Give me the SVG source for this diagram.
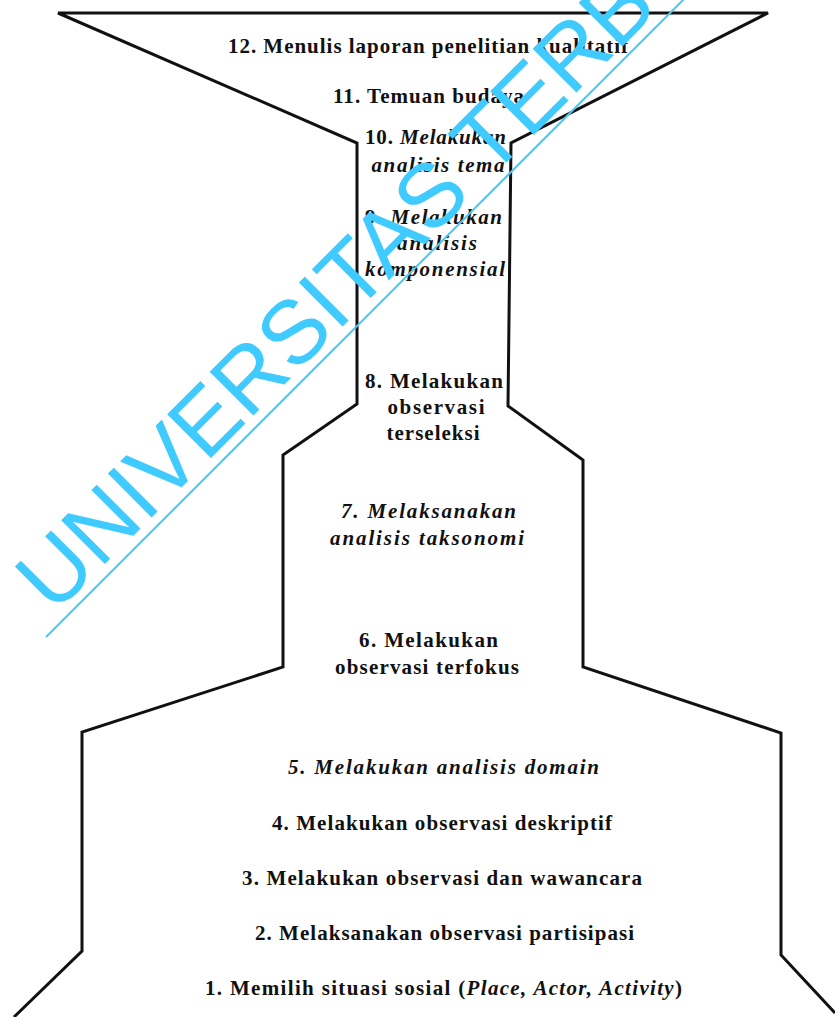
<svg xmlns="http://www.w3.org/2000/svg" width="835" height="1017" viewBox="0 0 835 1017">
<style>
.t{font-size:21px;font-weight:bold;fill:#111;text-anchor:middle}
.i{font-style:italic}
.o{fill:none;stroke:#111;stroke-width:3;stroke-linejoin:miter}
.wm{font-size:90px;fill:#3fcbff}
</style>
<rect width="835" height="1017" fill="#fff"/>
<g id="outline">
<polyline class="o" points="14,1017 82,951 82,732 283,667 283,455 357,404 357,143 58,13 768,13 511,143 508,406 583,460 583,667 781,733 781,955 835,1013"/>
</g>
<g id="labels" font-family="Liberation Serif, DejaVu Serif, serif">
<g id="step12"><text class="t" x="428" y="53" textLength="400" lengthAdjust="spacing">12. Menulis laporan penelitian kualitatif</text></g>
<g id="step11"><text class="t" x="428.5" y="103" textLength="191" lengthAdjust="spacing">11. Temuan budaya</text></g>
<g id="step10"><text class="t" x="435.5" y="144" textLength="141" lengthAdjust="spacing">10. <tspan class="i">Melakukan</tspan></text><text class="t i" x="438" y="172" textLength="133" lengthAdjust="spacing">analisis tema</text></g>
<g id="step9"><text class="t" x="433.5" y="224" textLength="137" lengthAdjust="spacing">9. <tspan class="i">Melakukan</tspan></text><text class="t i" x="437" y="250" textLength="80" lengthAdjust="spacing">analisis</text><text class="t i" x="435" y="276" textLength="140" lengthAdjust="spacing">komponensial</text></g>
<g id="step8"><text class="t" x="434" y="388" textLength="138" lengthAdjust="spacing">8. Melakukan</text><text class="t" x="436" y="414" textLength="97" lengthAdjust="spacing">observasi</text><text class="t" x="433" y="440" textLength="93" lengthAdjust="spacing">terseleksi</text></g>
<g id="step7"><text class="t i" x="428.5" y="518" textLength="175" lengthAdjust="spacing">7. Melaksanakan</text><text class="t i" x="427" y="545" textLength="194" lengthAdjust="spacing">analisis taksonomi</text></g>
<g id="step6"><text class="t" x="428.5" y="647" textLength="139" lengthAdjust="spacing">6. Melakukan</text><text class="t" x="427" y="674" textLength="184" lengthAdjust="spacing">observasi terfokus</text></g>
<g id="step5"><text class="t i" x="443.5" y="774" textLength="311" lengthAdjust="spacing">5. Melakukan analisis domain</text></g>
<g id="step4"><text class="t" x="442" y="830" textLength="340" lengthAdjust="spacing">4. Melakukan observasi deskriptif</text></g>
<g id="step3"><text class="t" x="442" y="885" textLength="400" lengthAdjust="spacing">3. Melakukan observasi dan wawancara</text></g>
<g id="step2"><text class="t" x="444.5" y="940" textLength="379" lengthAdjust="spacing">2. Melaksanakan observasi partisipasi</text></g>
<g id="step1"><text class="t" x="443.5" y="995" textLength="477" lengthAdjust="spacing">1. Memilih situasi sosial (<tspan class="i">Place, Actor, Activity</tspan>)</text></g>
</g>
<g id="watermark" font-family="Liberation Sans, Arial, sans-serif">
<text class="wm" x="53.8" y="615.2" transform="rotate(-45 53.8 615.2)">UNIVERSITAS TERBUKA</text>
<line x1="46" y1="637" x2="722" y2="-39" stroke="#3fcbff" stroke-width="2"/>
</g>
</svg>
